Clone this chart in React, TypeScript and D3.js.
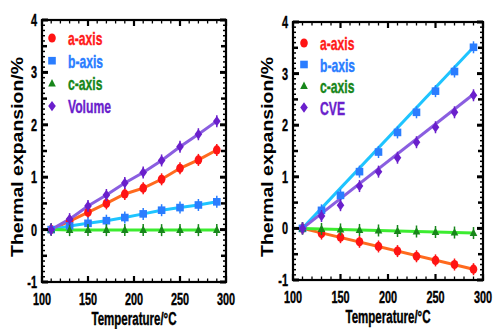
import React from 'react';
import * as d3 from 'd3';

const temps = [110, 130, 150, 170, 190, 210, 230, 250, 270, 290];

// left panel
const aLeft = [0, 0.16, 0.33, 0.5, 0.68, 0.79, 0.96, 1.17, 1.33, 1.52];
const bLeft = [0, 0.07, 0.12, 0.17, 0.23, 0.3, 0.37, 0.42, 0.47, 0.53];
const cLeft = [0, -0.01, -0.01, -0.01, -0.01, -0.01, -0.01, -0.01, -0.01, -0.01];
const volLeft = [0, 0.2, 0.45, 0.66, 0.89, 1.09, 1.32, 1.58, 1.82, 2.07];

// right panel
const aRight = [0, -0.1, -0.17, -0.26, -0.35, -0.44, -0.54, -0.62, -0.7, -0.79];
const bRight = [0, 0.35, 0.64, 1.1, 1.48, 1.86, 2.25, 2.66, 3.04, 3.51];
const cRight = [0, -0.01, -0.02, -0.03, -0.04, -0.05, -0.06, -0.07, -0.08, -0.09];
const cveRight = [0, 0.24, 0.45, 0.82, 1.1, 1.37, 1.67, 1.96, 2.25, 2.58];

const leftNames = ['a-axis', 'b-axis', 'c-axis', 'Volume'];
const rightNames = ['a-axis', 'b-axis', 'c-axis', 'CVE'];

const xTicks = [100, 150, 200, 250, 300];
const yTicks = [-1, 0, 1, 2, 3, 4];

const xTitle = 'Temperature/°C';
const yTitle = 'Thermal expansion/%';

type Shape = 'circle' | 'square' | 'triangle' | 'diamond';

const styles: { shape: Shape; marker: string; line: string; text: string }[] = [
    { shape: 'circle', marker: '#ff1414', line: '#ff6a1e', text: '#ff1a1a' },
    { shape: 'square', marker: '#2a7dff', line: '#1ec4ff', text: '#2a7dff' },
    { shape: 'triangle', marker: '#17861a', line: '#3cec30', text: '#17861a' },
    { shape: 'diamond', marker: '#6a1fcc', line: '#8a5ee0', text: '#6a1fcc' },
];

const FONT = '"Liberation Sans", Arial, sans-serif';

function Marker({ shape, x, y, color }: { shape: Shape; x: number; y: number; color: string }) {
    if (shape === 'circle') return <ellipse cx={x} cy={y} rx={3.8} ry={4.6} fill={color} />;
    if (shape === 'square') return <rect x={x - 3.8} y={y - 3.8} width={7.6} height={7.6} fill={color} />;
    if (shape === 'triangle')
        return <path d={`M${x},${y - 4.5}L${x + 3.8},${y + 3}L${x - 3.8},${y + 3}Z`} fill={color} />;
    return <path d={`M${x},${y - 5.2}L${x + 3.8},${y}L${x},${y + 5.2}L${x - 3.8},${y}Z`} fill={color} />;
}

function NarrowText({ x, y, size, anchor, fill, children }: any) {
    return (
        <text
            transform={`translate(${x},${y}) scale(0.64,1)`}
            fontFamily={FONT}
            fontWeight="bold"
            fontSize={size}
            textAnchor={anchor || 'start'}
            fill={fill || '#000'}
            stroke={fill || '#000'}
            strokeWidth={0.4}
        >
            {children}
        </text>
    );
}

// least squares line through the points
function fit(xs: number[], ys: number[]) {
    const mx = d3.mean(xs)!;
    const my = d3.mean(ys)!;
    const num = d3.sum(xs, (x, i) => (x - mx) * (ys[i] - my));
    const den = d3.sum(xs, x => (x - mx) * (x - mx));
    const k = num / den;
    return (x: number) => my + k * (x - mx);
}

interface PanelProps {
    box: { left: number; right: number; top: number; bottom: number };
    series: number[][];
    names: string[];
    fitted: boolean;
    legend: { x: number; y: number; gap: number; textX: number };
    yTitleX: number;
}

function Panel({ box, series, names, fitted, legend, yTitleX }: PanelProps) {
    const x = d3.scaleLinear().domain([100, 300]).range([box.left, box.right]);
    const y = d3.scaleLinear().domain([-1, 4]).range([box.bottom, box.top]);

    const minorX = d3.range(100, 301, 10);
    const minorY = d3.range(-10, 41).map(v => v / 10);

    const line = d3.line<[number, number]>()
        .x(d => x(d[0]))
        .y(d => y(d[1]));

    return (
        <g>
            {/* series lines */}
            {series.map((vals, i) => {
                let pts: [number, number][];
                if (fitted) {
                    const f = fit(temps, vals);
                    const off = f(temps[0]) - vals[0];
                    pts = [[temps[0], 0], [temps[temps.length - 1], f(temps[temps.length - 1]) - off]];
                } else {
                    pts = temps.map((t, j) => [t, vals[j]]);
                }
                return (
                    <path key={i} d={line(pts)!} fill="none" stroke={styles[i].line} strokeWidth={3} />
                );
            })}
            {/* markers */}
            {series.map((vals, i) =>
                temps.map((t, j) => (
                    <g key={`${i}-${j}`}>
                        <line x1={x(t)} x2={x(t)} y1={y(vals[j]) - 6} y2={y(vals[j]) + 6}
                            stroke={styles[i].marker} strokeWidth={1.5} />
                        <Marker shape={styles[i].shape} x={x(t)} y={y(vals[j])} color={styles[i].marker} />
                    </g>
                ))
            )}

            {/* frame */}
            <rect x={box.left} y={box.top} width={box.right - box.left} height={box.bottom - box.top}
                fill="none" stroke="#000" strokeWidth={2.2} />

            {/* x ticks, bottom and top, pointing in */}
            {minorX.map(t => {
                const major = t % 50 === 0;
                const len = major ? 6 : 3.5;
                const w = major ? 2.2 : 1.3;
                return (
                    <g key={`xt${t}`} stroke="#000" strokeWidth={w}>
                        <line x1={x(t)} x2={x(t)} y1={box.bottom} y2={box.bottom - len} />
                        <line x1={x(t)} x2={x(t)} y1={box.top} y2={box.top + len} />
                    </g>
                );
            })}
            {/* y ticks, left and right */}
            {minorY.map(v => {
                const r = Math.round(v * 10);
                const major = r % 10 === 0;
                const half = r % 5 === 0;
                const len = major ? 6 : half ? 5 : 3;
                const w = major ? 3 : half ? 2.5 : 1.5;
                return (
                    <g key={`yt${r}`} stroke="#000" strokeWidth={w}>
                        <line x1={box.left} x2={box.left + len} y1={y(v)} y2={y(v)} />
                        <line x1={box.right} x2={box.right - len} y1={y(v)} y2={y(v)} />
                    </g>
                );
            })}

            {/* tick labels */}
            {xTicks.map(t => (
                <NarrowText key={`xl${t}`} x={x(t)} y={box.bottom + 23} size={17} anchor="middle">{t}</NarrowText>
            ))}
            {yTicks.map(v => (
                <NarrowText key={`yl${v}`} x={box.left - 5} y={y(v) + 6} size={17} anchor="end">{v}</NarrowText>
            ))}

            {/* titles */}
            <NarrowText x={(box.left + box.right) / 2} y={box.bottom + 43} size={18} anchor="middle">{xTitle}</NarrowText>
            <text
                transform={`translate(${yTitleX},${(box.top + box.bottom) / 2 + 6}) rotate(-90)`}
                fontFamily={FONT}
                fontWeight="bold"
                fontSize={16.5}
                textAnchor="middle"
                textLength={200}
                lengthAdjust="spacingAndGlyphs"
            >
                {yTitle}
            </text>

            {/* legend */}
            {names.map((n, i) => (
                <g key={n}>
                    <Marker shape={styles[i].shape} x={legend.x} y={legend.y + i * legend.gap} color={styles[i].marker} />
                    <NarrowText x={legend.textX} y={legend.y + i * legend.gap + 7} size={19} fill={styles[i].text}>{n}</NarrowText>
                </g>
            ))}
        </g>
    );
}

export default function App() {
    return (
        <svg width={496} height={329} style={{ position: 'absolute', left: 0, top: 0, background: '#fff' }}>
            <Panel
                box={{ left: 42, right: 226, top: 20, bottom: 282 }}
                series={[aLeft, bLeft, cLeft, volLeft]}
                names={leftNames}
                fitted={false}
                legend={{ x: 52, y: 38, gap: 22.7, textX: 68 }}
                yTitleX={23}
            />
            <Panel
                box={{ left: 293, right: 483, top: 22, bottom: 280 }}
                series={[aRight, bRight, cRight, cveRight]}
                names={rightNames}
                fitted={true}
                legend={{ x: 304, y: 43, gap: 21.5, textX: 320 }}
                yTitleX={273}
            />
        </svg>
    );
}
